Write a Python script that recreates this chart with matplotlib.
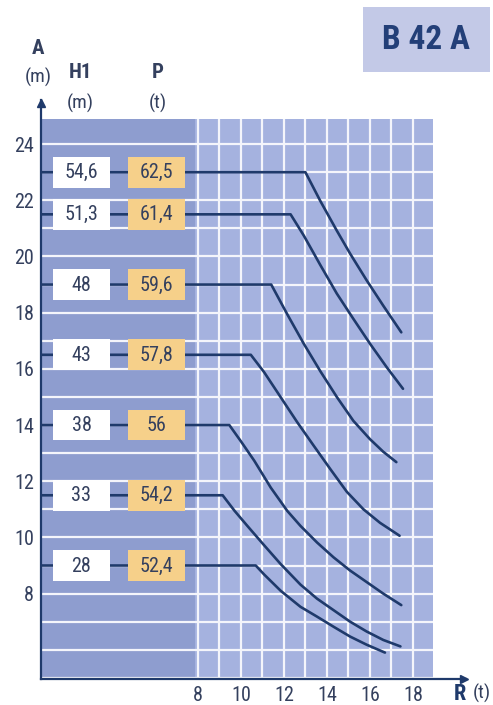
import matplotlib
matplotlib.use("Agg")
import matplotlib.pyplot as plt
from matplotlib.patches import Rectangle
from matplotlib import font_manager as fm

# ---------------- data ----------------
levels_A = [23, 21.5, 19, 16.5, 14, 11.5, 9]
labels_H1 = ["54,6", "51,3", "48", "43", "38", "33", "28"]
labels_P = ["62,5", "61,4", "59,6", "57,8", "56", "54,2", "52,4"]

# descending part of each curve (R, A), starting at its break point
curve_R = [
    [13.0, 13.69, 14.46, 15.08, 15.85, 16.62, 17.46],
    [12.31, 12.92, 13.69, 14.46, 15.23, 16.0, 16.77, 17.54],
    [11.41, 12.15, 12.92, 13.69, 14.46, 15.23, 16.0, 16.62, 17.23],
    [10.46, 11.08, 11.85, 12.62, 13.39, 14.16, 14.93, 15.70, 16.47, 17.38],
    [9.46, 10.0, 10.62, 11.39, 12.16, 12.77, 13.54, 14.31, 15.08, 15.85, 16.62, 17.46],
    [9.15, 9.7, 10.31, 11.08, 11.85, 12.77, 13.54, 14.31, 15.08, 15.85, 16.62, 17.42],
    [10.69, 11.08, 11.85, 12.77, 13.54, 14.31, 15.08, 15.85, 16.70],
]
curve_A = [
    [23, 21.98, 20.92, 20.1, 19.15, 18.25, 17.3],
    [21.5, 20.75, 19.7, 18.68, 17.78, 16.9, 16.07, 15.29],
    [19, 17.95, 16.9, 15.92, 15.0, 14.15, 13.5, 13.05, 12.68],
    [16.5, 15.88, 14.99, 14.10, 13.26, 12.43, 11.62, 11.0, 10.52, 10.06],
    [14, 13.42, 12.73, 11.77, 10.94, 10.41, 9.82, 9.29, 8.82, 8.41, 8.0, 7.59],
    [11.5, 10.95, 10.4, 9.72, 9.05, 8.32, 7.82, 7.41, 7.0, 6.65, 6.35, 6.12],
    [9, 8.68, 8.1, 7.53, 7.18, 6.82, 6.47, 6.18, 5.9],
]
x_ticks = [8, 10, 12, 14, 16, 18]
y_ticks = [8, 10, 12, 14, 16, 18, 20, 22, 24]
title_text = "B 42 A"

# ---------------- fonts ----------------
fl = fm.fontManager.ttflist
names = {f.name for f in fl}
STRETCH = "normal"
if "Liberation Sans Narrow" in names:
    FAM = "Liberation Sans Narrow"
elif "Roboto Condensed" in names:
    FAM = "Roboto Condensed"
elif any(f.name == "DejaVu Sans" and "Condensed" in f.fname for f in fl):
    FAM = "DejaVu Sans"
    STRETCH = "condensed"
else:
    FAM = "Liberation Sans"
plt.rcParams["font.family"] = [FAM, "DejaVu Sans"]
plt.rcParams["font.stretch"] = STRETCH

W, H = 493, 705
fig = plt.figure(figsize=(W / 100, H / 100), dpi=100)
fig.patch.set_facecolor("white")

def fx(px):
    return px / W

def fy(py):
    return 1 - py / H

ax_l, ax_r, ax_b, ax_t = 41, 466, 679, 100
ax = fig.add_axes([fx(ax_l), fy(ax_b), (ax_r - ax_l) / W, (ax_b - ax_t) / H])

X0, X1 = 0.70, 20.47
Y0, Y1 = 4.96, 25.57
ax.set_xlim(X0, X1)
ax.set_ylim(Y0, Y1)

XSPLIT, XEND, YTOP = 7.86, 18.95, 24.88
DARK = "#8e9dcf"
LIGHT = "#a5b2df"
GRID = "#f4f5fb"
NAVY = "#1f3a6b"
TXT = "#34405e"

ax.add_patch(Rectangle((X0, Y0), XSPLIT - X0, YTOP - Y0, color=DARK, zorder=0, lw=0))
ax.add_patch(Rectangle((XSPLIT, Y0), XEND - XSPLIT, YTOP - Y0, color=LIGHT, zorder=0, lw=0))

for yv in range(5, 25):
    ax.plot([X0, XEND], [yv, yv], color=GRID, lw=1.6, zorder=1, solid_capstyle="butt")
for xv in range(8, 19):
    ax.plot([xv, xv], [Y0, YTOP], color=GRID, lw=1.6, zorder=1, solid_capstyle="butt")

# curves
for lvl, rs, as_ in zip(levels_A, curve_R, curve_A):
    ax.plot([X0] + rs, [lvl] + as_, color=NAVY, lw=1.9, zorder=3,
            solid_joinstyle="round", solid_capstyle="round")

# boxes
BH = 0.55
HX0, HX1, PX0, PX1 = 1.256, 3.907, 4.744, 7.395
for lvl, h1, p in zip(levels_A, labels_H1, labels_P):
    ax.add_patch(Rectangle((HX0, lvl - BH), HX1 - HX0, 2 * BH, facecolor="white",
                           edgecolor="none", zorder=4))
    ax.add_patch(Rectangle((PX0, lvl - BH), PX1 - PX0, 2 * BH, facecolor="#f6d08a",
                           edgecolor="none", zorder=4))
    ax.text((HX0 + HX1) / 2, lvl - 0.02, h1, ha="center", va="center", fontsize=14.5,
            color=TXT, zorder=5)
    ax.text((PX0 + PX1) / 2, lvl - 0.02, p, ha="center", va="center", fontsize=14.5,
            color=TXT, zorder=5)

# spines / axes
for s in ["top", "right"]:
    ax.spines[s].set_visible(False)
for s in ["left", "bottom"]:
    ax.spines[s].set_color(NAVY)
    ax.spines[s].set_linewidth(1.6)
    ax.spines[s].set_zorder(6)
ax.plot([X0], [Y1 - 0.12], marker="^", color=NAVY, markersize=6, clip_on=False, zorder=7)
ax.plot([X1 - 0.1], [Y0], marker=">", color=NAVY, markersize=6, clip_on=False, zorder=7)

ax.set_xticks(x_ticks)
ax.set_yticks(y_ticks)
ax.tick_params(axis="both", length=0, labelsize=14.5, labelcolor=TXT)
ax.tick_params(axis="x", pad=5)
ax.tick_params(axis="y", pad=5)

# headers
fig.text(fx(38), fy(48), "A", ha="center", va="center", fontsize=15, fontweight="bold", color=TXT)
fig.text(fx(38), fy(77), "(m)", ha="center", va="center", fontsize=14, color=TXT)
fig.text(fx(80), fy(72), "H1", ha="center", va="center", fontsize=15, fontweight="bold", color=TXT)
fig.text(fx(80), fy(103), "(m)", ha="center", va="center", fontsize=14, color=TXT)
fig.text(fx(158), fy(72), "P", ha="center", va="center", fontsize=15, fontweight="bold", color=TXT)
fig.text(fx(158), fy(103), "(t)", ha="center", va="center", fontsize=14, color=TXT)
fig.text(fx(460), fy(694), "R", ha="center", va="center", fontsize=16, fontweight="bold", color=NAVY)
fig.text(fx(482), fy(693), "(t)", ha="center", va="center", fontsize=14, color=TXT)

# title box
fig.patches.append(Rectangle((fx(363), fy(72)), (490 - 363) / W, (72 - 7) / H,
                             transform=fig.transFigure, facecolor="#c3c9e7",
                             edgecolor="none", zorder=0))
fig.text(fx(426), fy(40), title_text, ha="center", va="center", fontsize=24,
         fontweight="bold", color="#233f78")

fig.savefig("out.png", dpi=100)
